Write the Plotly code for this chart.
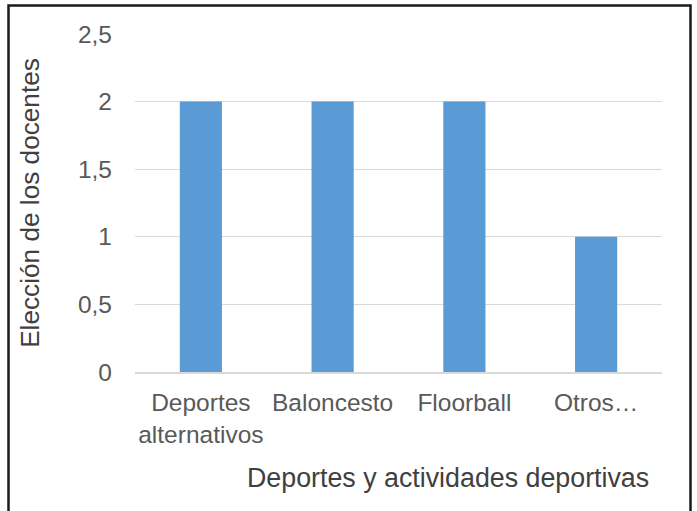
import plotly.graph_objects as go

categories = ["Deportes<br>alternativos", "Baloncesto", "Floorball", "Otros…"]
values = [2, 2, 2, 1]
y_tickvals = [0, 0.5, 1, 1.5, 2, 2.5]
y_ticktext = ["0", "0,5", "1", "1,5", "2", "2,5"]

fig = go.Figure(go.Bar(x=categories, y=values, marker=dict(color="#5B9BD5", line=dict(width=0))))

W, H = 697, 511
L, R, T, B = 135, 35, 34, 139
pw, ph = W - L - R, H - T - B

def px(x):
    return (x - L) / pw

def py(y):
    return (H - B - y) / ph

fig.update_layout(
    width=W, height=H,
    margin=dict(l=L, r=R, t=T, b=B),
    paper_bgcolor="white", plot_bgcolor="white",
    bargap=0.68,
    showlegend=False,
    font=dict(family="Liberation Sans, Arial, sans-serif", color="#595959"),
    xaxis=dict(
        showgrid=False, showline=True, linecolor="#D9D9D9", linewidth=1.5,
        ticks="", tickfont=dict(size=24.5, color="#595959"),
        ticklabelstandoff=8,
    ),
    yaxis=dict(
        range=[0, 2.5], tickvals=y_tickvals, ticktext=y_ticktext,
        showgrid=True, gridcolor="#D9D9D9", gridwidth=1, zeroline=False,
        ticks="", tickfont=dict(size=24.5, color="#595959"),
        ticklabelstandoff=22,
        title=dict(text="Elección de los docentes", font=dict(size=26.2, color="#404040"), standoff=30),
    ),
    annotations=[dict(
        text="Deportes y actividades deportivas", xref="paper", yref="paper",
        x=px(448), y=py(478), xanchor="center", yanchor="middle", showarrow=False,
        font=dict(size=26.8, color="#404040"),
    )],
    shapes=[dict(
        type="rect", xref="paper", yref="paper",
        x0=px(8.5), x1=px(690.5), y0=py(530), y1=py(5.5),
        line=dict(color="#1a1a1a", width=2.5), fillcolor="rgba(0,0,0,0)", layer="above",
    )],
)

fig.write_html(
    "out.html",
    config={"displayModeBar": False},
    post_script="document.body.style.margin='0';document.body.style.overflow='hidden';",
)
